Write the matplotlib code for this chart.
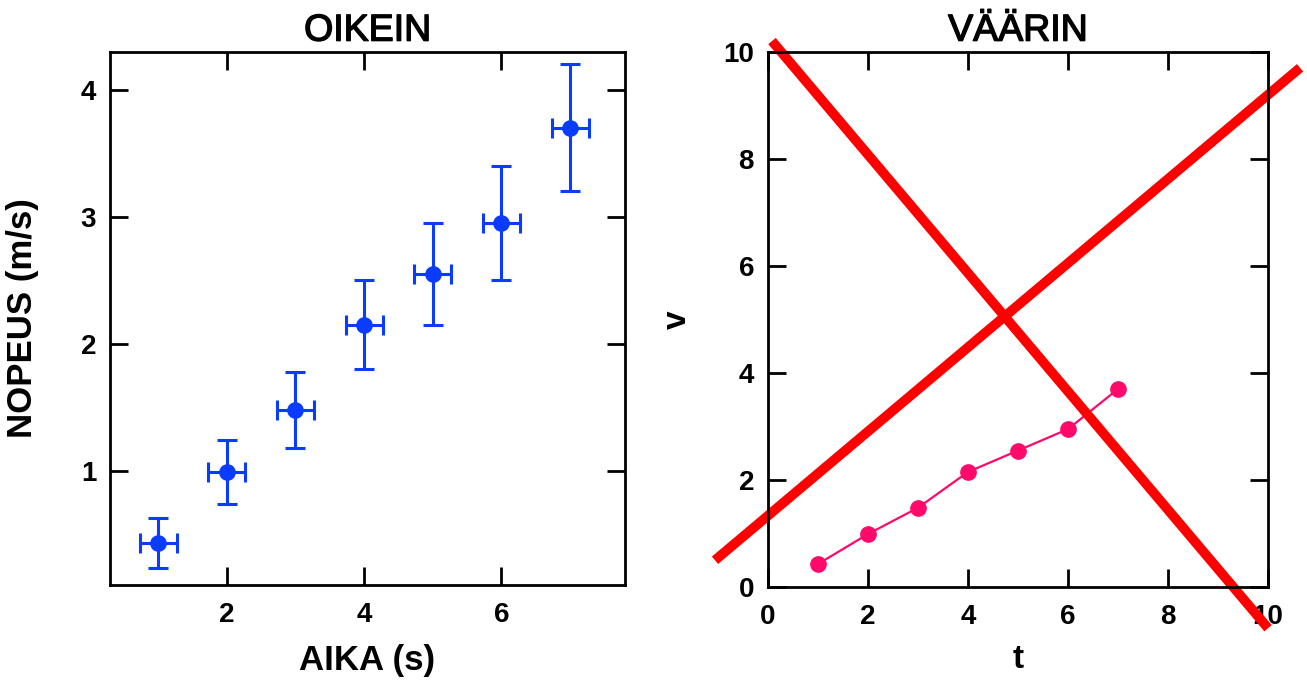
import matplotlib
matplotlib.use("Agg")
import matplotlib.pyplot as plt
import matplotlib.patheffects as pe
import numpy as np

plt.rcParams['font.family'] = ['Liberation Sans', 'DejaVu Sans']
plt.rcParams['font.weight'] = 'bold'

# data
aika = [1, 2, 3, 4, 5, 6, 7]
nopeus = [0.43, 0.99, 1.48, 2.15, 2.55, 2.95, 3.70]
nopeus_err = [0.2, 0.25, 0.3, 0.35, 0.4, 0.45, 0.5]
aika_err = [0.27, 0.27, 0.27, 0.27, 0.27, 0.27, 0.27]

# the big cross drawn over the wrong plot
cross1_t = [-1.06, 10.64]
cross1_v = [0.5, 9.7]
cross2_t = [0.08, 10.0]
cross2_v = [10.2, -0.77]

fig = plt.figure(figsize=(13.07, 6.81), dpi=100)
ax1 = fig.add_axes([0.0842, 0.141, 0.394, 0.783])
ax2 = fig.add_axes([0.5876, 0.138, 0.3826, 0.786])

# slightly heavier than regular, like the original titles
title_fx = [pe.withStroke(linewidth=1.0, foreground='black')]

def style(ax):
    ax.tick_params(direction='in', length=13, width=2, top=True, right=True,
                   labelsize=20)
    ax.tick_params(axis='x', pad=12)
    ax.tick_params(axis='y', pad=10)
    for s in ax.spines.values():
        s.set_linewidth(2)
    for lab in ax.get_xticklabels() + ax.get_yticklabels():
        lab.set_fontweight('bold')

# 1. oikein
ax1.errorbar(aika, nopeus, yerr=nopeus_err, xerr=aika_err, fmt='o', color='#0a3cff',
             ms=11, elinewidth=2.2, capsize=7.5, capthick=2.2)
ax1.set_xlim(0.3, 7.8)
ax1.set_ylim(0.1, 4.3)
ax1.set_xticks([2, 4, 6])
ax1.set_yticks([1, 2, 3, 4])
ax1.set_title('OIKEIN', fontsize=27, fontweight='normal', pad=8, path_effects=title_fx)
ax1.set_xlabel('AIKA (s)', fontsize=25, fontweight='bold', labelpad=12)
ax1.set_ylabel('NOPEUS (m/s)', fontsize=25, fontweight='bold', labelpad=30)
style(ax1)

# 2. vaarin
ax2.plot(aika, nopeus, '-o', color='#ff0a6a', ms=11, lw=1.6)
ax2.plot(cross1_t, cross1_v, color='#ff0000', lw=7, clip_on=False, solid_capstyle='butt')
ax2.plot(cross2_t, cross2_v, color='#ff0000', lw=7, clip_on=False, solid_capstyle='butt')
ax2.set_xlim(0, 10)
ax2.set_ylim(0, 10)
ax2.set_xticks([0, 2, 4, 6, 8, 10])
ax2.set_yticks([0, 2, 4, 6, 8, 10])
ax2.set_title('VÄÄRIN', fontsize=27, fontweight='normal', pad=8, path_effects=title_fx)
ax2.set_xlabel('t', fontsize=24, fontweight='bold', labelpad=10)
ax2.set_ylabel('v', fontsize=24, fontweight='bold', labelpad=22)
style(ax2)

fig.savefig('out.png', dpi=100)
